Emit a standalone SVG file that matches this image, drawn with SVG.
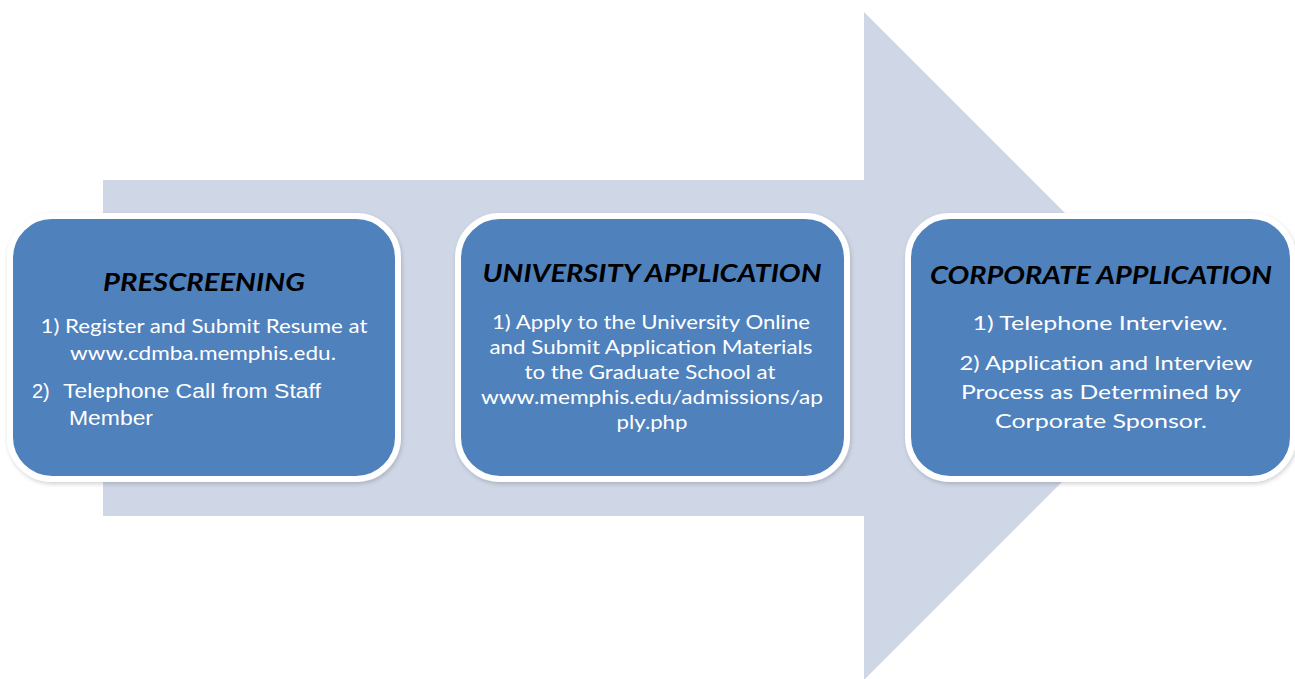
<svg xmlns="http://www.w3.org/2000/svg" width="1295" height="679" viewBox="0 0 1295 679">
<style>
.box{fill:#4f81bd;stroke:#ffffff;stroke-width:6}
.title{font-family:Lato,"Open Sans","Liberation Sans",sans-serif;font-weight:bold;font-style:italic;font-size:24px;fill:#000000;text-anchor:middle}
.body{font-family:Lato,"Open Sans","Liberation Sans",sans-serif;font-size:20px;fill:#ffffff;text-anchor:middle}
.arial{font-family:"Liberation Sans",Arial,sans-serif;font-size:20px;fill:#ffffff}
</style>
<defs>
<filter id="sh" x="-5%" y="-5%" width="110%" height="115%">
<feDropShadow dx="1" dy="2" stdDeviation="2" flood-color="#000" flood-opacity="0.18"/>
</filter>
</defs>
<g id="connectors">
<polygon points="103,180 864,180 864,12 1198,346 864,680 864,516 103,516" fill="#cfd7e7"/>
</g>
<g id="prescreening">
<rect class="box" x="10" y="216" width="388" height="263" rx="42" filter="url(#sh)"/>
<text class="title" x="204" y="291" textLength="202" lengthAdjust="spacingAndGlyphs">PRESCREENING</text>
<text class="body" x="204" y="333" textLength="327" lengthAdjust="spacingAndGlyphs">1) Register and Submit Resume at</text>
<text class="body" x="203" y="360" textLength="266" lengthAdjust="spacingAndGlyphs">www.cdmba.memphis.edu.</text>
<text class="arial" x="32" y="398">2)</text>
<text class="arial" x="63" y="398" textLength="258" lengthAdjust="spacingAndGlyphs">Telephone Call from Staff</text>
<text class="arial" x="69" y="425" textLength="84" lengthAdjust="spacingAndGlyphs">Member</text>
</g>
<g id="university">
<rect class="box" x="458" y="216" width="389" height="263" rx="42" filter="url(#sh)"/>
<text class="title" x="652" y="282" textLength="339" lengthAdjust="spacingAndGlyphs">UNIVERSITY APPLICATION</text>
<text class="body" x="651" y="329" textLength="318" lengthAdjust="spacingAndGlyphs">1) Apply to the University Online</text>
<text class="body" x="651" y="354" textLength="323" lengthAdjust="spacingAndGlyphs">and Submit Application Materials</text>
<text class="body" x="650" y="379" textLength="251" lengthAdjust="spacingAndGlyphs">to the Graduate School at</text>
<text class="body" x="652" y="404" textLength="342" lengthAdjust="spacingAndGlyphs">www.memphis.edu/admissions/ap</text>
<text class="body" x="652" y="429" textLength="71" lengthAdjust="spacingAndGlyphs">ply.php</text>
</g>
<g id="corporate">
<rect class="box" x="908" y="216" width="385" height="263" rx="42" filter="url(#sh)"/>
<text class="title" x="1101" y="284" textLength="342" lengthAdjust="spacingAndGlyphs">CORPORATE APPLICATION</text>
<text class="body" x="1100" y="330" textLength="255" lengthAdjust="spacingAndGlyphs">1) Telephone Interview.</text>
<text class="body" x="1106" y="370" textLength="293" lengthAdjust="spacingAndGlyphs">2) Application and Interview</text>
<text class="body" x="1101" y="399" textLength="280" lengthAdjust="spacingAndGlyphs">Process as Determined by</text>
<text class="body" x="1101" y="428" textLength="212" lengthAdjust="spacingAndGlyphs">Corporate Sponsor.</text>
</g>
</svg>
